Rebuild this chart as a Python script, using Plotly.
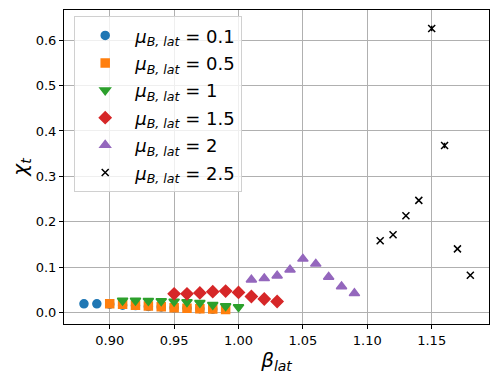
import plotly.graph_objects as go

# beta_lat values and chi_t per mu_B,lat
beta_01 = [0.88, 0.89, 0.90, 0.91, 0.92, 0.93, 0.94, 0.95, 0.96, 0.97, 0.98]
chi_01 = [0.019, 0.019, 0.018, 0.016, 0.015, 0.013, 0.012, 0.010, 0.009, 0.008, 0.007]
err_01 = [0.001] * 11

beta_05 = [0.90, 0.91, 0.92, 0.93, 0.94, 0.95, 0.96, 0.97, 0.98, 0.99]
chi_05 = [0.019, 0.018, 0.016, 0.014, 0.0125, 0.010, 0.009, 0.008, 0.0075, 0.0066]
err_05 = [0.001] * 10

beta_1 = [0.91, 0.92, 0.93, 0.94, 0.95, 0.96, 0.97, 0.98, 0.99, 1.00]
chi_1 = [0.026, 0.026, 0.0258, 0.025, 0.024, 0.023, 0.021, 0.017, 0.014, 0.012]
err_1 = [0.001] * 10

beta_15 = [0.95, 0.96, 0.97, 0.98, 0.99, 1.00, 1.01, 1.02, 1.03]
chi_15 = [0.041, 0.041, 0.043, 0.0456, 0.047, 0.044, 0.035, 0.0295, 0.024]
err_15 = [0.001] * 9

beta_2 = [1.01, 1.02, 1.03, 1.04, 1.05, 1.06, 1.07, 1.08, 1.09]
chi_2 = [0.072, 0.075, 0.081, 0.094, 0.118, 0.107, 0.078, 0.057, 0.042]
err_2 = [0.001] * 9

beta_25 = [1.11, 1.12, 1.13, 1.14, 1.15, 1.16, 1.17, 1.18]
chi_25 = [0.158, 0.171, 0.213, 0.247, 0.626, 0.368, 0.140, 0.082]
err_25 = [0.002, 0.002, 0.002, 0.002, 0.006, 0.006, 0.002, 0.002]

series = [
    ("0.1", beta_01, chi_01, err_01, "#1f77b4", "circle", 8),
    ("0.5", beta_05, chi_05, err_05, "#ff7f0e", "square", 8),
    ("1", beta_1, chi_1, err_1, "#2ca02c", "triangle-down", 9),
    ("1.5", beta_15, chi_15, err_15, "#d62728", "diamond", 9),
    ("2", beta_2, chi_2, err_2, "#9467bd", "triangle-up", 9),
    ("2.5", beta_25, chi_25, err_25, "black", "x-thin", 7),
]

fig = go.Figure()
for label, xs, ys, es, color, symbol, size in series:
    fig.add_trace(go.Scatter(
        x=xs, y=ys, mode="markers",
        name="<i>μ</i><sub><i>B, lat</i></sub> = " + label,
        legendgroup=label,
        marker=dict(color=color, symbol=symbol, size=size,
                    line=dict(color=color, width=1.5)),
        error_y=dict(type="data", array=es, color=color, thickness=1.5, width=0),
    ))

axis_style = dict(
    showline=True, linecolor="black", linewidth=1, mirror=True,
    ticks="outside", ticklen=4, tickcolor="black",
    showgrid=True, gridcolor="#b0b0b0", gridwidth=1, zeroline=False,
    tickfont=dict(size=13, color="black"),
)

# the page body adds an 8px offset, so the figure is sized to fit inside it
fig.update_layout(
    width=490, height=374,
    margin=dict(l=56, r=9, t=2, b=58),
    plot_bgcolor="white", paper_bgcolor="white",
    font=dict(family="DejaVu Sans", color="black"),
    xaxis=dict(range=[0.8645, 1.1945], tickvals=[0.90, 0.95, 1.00, 1.05, 1.10, 1.15],
               tickformat=".2f",
               title=dict(text="<i>β</i><sub><i>lat</i></sub>", font=dict(size=20), standoff=4),
               **axis_style),
    yaxis=dict(range=[-0.0256, 0.6667], tickvals=[0, 0.1, 0.2, 0.3, 0.4, 0.5, 0.6],
               tickformat=".1f",
               title=dict(text="<i>χ</i><sub><i>t</i></sub>", font=dict(size=20), standoff=4),
               **axis_style),
    legend=dict(x=0.024, y=0.98, xanchor="left", yanchor="top",
                bgcolor="rgba(255,255,255,0.8)", bordercolor="#d0d0d0", borderwidth=1,
                font=dict(size=18), tracegroupgap=1, itemwidth=50),
    showlegend=True,
)

fig.write_html("out.html")
